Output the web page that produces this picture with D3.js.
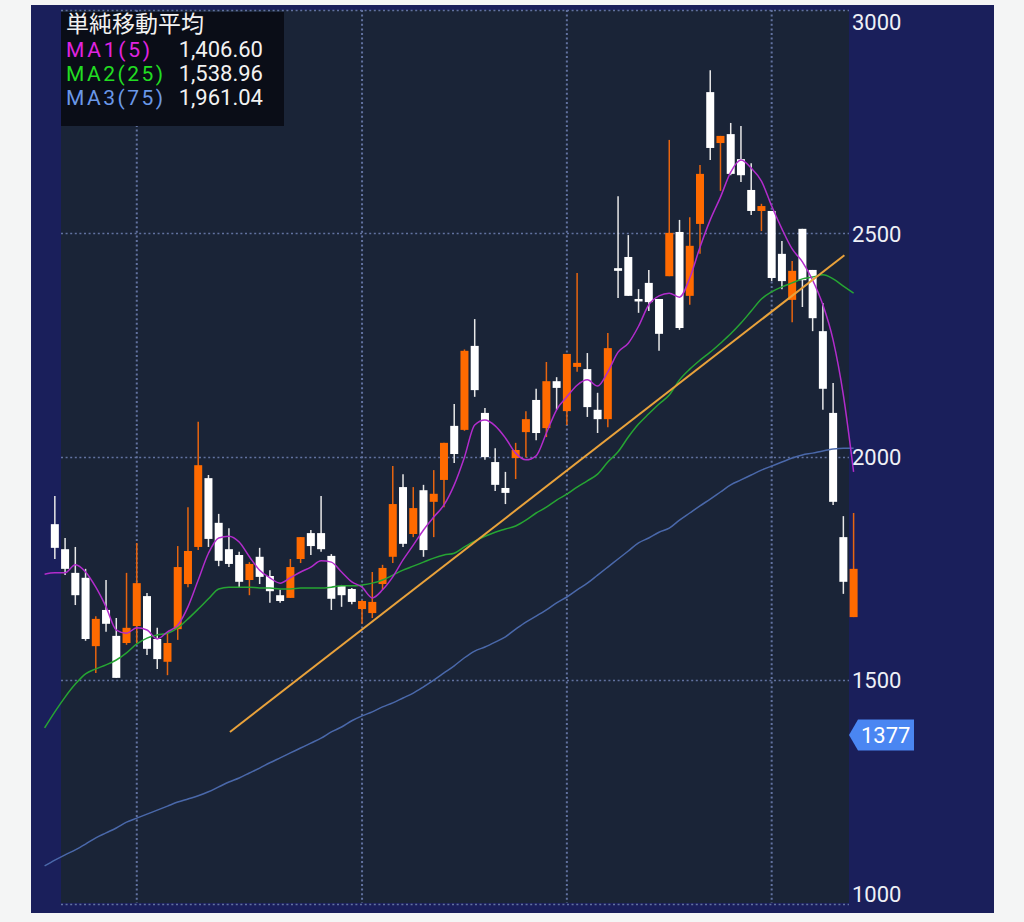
<!DOCTYPE html>
<html><head><meta charset="utf-8">
<script src="https://cdn.jsdelivr.net/npm/d3@7/dist/d3.min.js"></script>
<style>html,body{margin:0;padding:0;background:#f4f5f5;}svg{display:block}</style>
</head><body><svg id="c" width="1024" height="922"></svg>
<script>
// ---- data (candles 1..79) ----
const openP = [1849,1793,1740,1729,1576,1657,1599,1583,1621,1688,1592,1541,1614,1715,1798,1952,1852,1793,1780,1724,1776,1733,1690,1684,1771,1829,1829,1778,1711,1704,1659,1650,1715,1776,1932,1827,1925,1899,1948,2069,2060,2248,2098,1988,1930,1997,2055,2127,2064,2169,2102,2201,2196,2105,2084,2422,2447,2353,2389,2353,2404,2503,2360,2521,2816,2702,2722,2666,2597,2550,2550,2454,2351,2510,2418,2281,2098,1820,1641];
const highP = [1912,1818,1798,1749,1643,1724,1639,1740,1807,1695,1617,1605,1800,1887,2078,1959,1872,1840,1787,1764,1796,1746,1702,1771,1820,1836,1912,1782,1713,1706,1679,1742,1758,1979,1961,1932,1937,1970,2031,2118,2240,2308,2109,2019,1966,2031,2102,2152,2212,2178,2230,2411,2232,2143,2277,2583,2496,2375,2418,2353,2709,2530,2536,2653,2865,2718,2747,2740,2657,2566,2550,2483,2438,2510,2418,2344,2165,1867,1874];
const lowP = [1771,1735,1668,1588,1516,1608,1505,1579,1583,1556,1525,1511,1590,1708,1791,1798,1755,1753,1706,1690,1715,1673,1673,1684,1762,1780,1787,1657,1664,1670,1626,1639,1702,1762,1798,1820,1776,1820,1887,1986,2058,2134,1993,1923,1894,1950,1999,2037,2044,2105,2071,2190,2089,2053,2066,2355,2360,2322,2326,2237,2404,2284,2340,2454,2664,2595,2630,2615,2541,2505,2393,2375,2301,2335,2281,2105,1892,1693,1641];
const closeP = [1796,1749,1690,1592,1637,1626,1505,1617,1717,1570,1547,1583,1753,1789,1981,1816,1767,1760,1720,1760,1731,1699,1677,1753,1820,1800,1793,1682,1690,1675,1677,1675,1751,1894,1805,1885,1791,1917,2031,2006,2237,2149,1999,1937,1919,2015,2084,2053,2169,2154,2230,2210,2111,2084,2243,2416,2360,2348,2346,2275,2501,2288,2472,2633,2691,2718,2633,2630,2550,2561,2400,2393,2416,2395,2310,2152,1899,1720,1749];
// moving averages, index 0..79
const ma1 = [1737,1740,1740,1758,1742,1708,1664,1612,1605,1617,1612,1592,1608,1623,1664,1724,1784,1818,1822,1809,1776,1746,1729,1717,1729,1742,1753,1767,1764,1742,1720,1708,1684,1702,1731,1769,1802,1836,1865,1892,1937,1999,2071,2082,2069,2042,2008,1993,2002,2053,2105,2134,2160,2172,2158,2190,2234,2254,2292,2340,2360,2366,2357,2400,2469,2530,2581,2637,2664,2646,2617,2561,2510,2465,2436,2395,2340,2261,2138,1966];
const ma2 = [1393,1429,1462,1491,1514,1525,1534,1545,1561,1581,1594,1601,1605,1617,1637,1659,1682,1704,1708,1708,1708,1706,1706,1704,1704,1706,1706,1706,1708,1711,1711,1713,1717,1724,1735,1746,1755,1764,1773,1780,1784,1798,1811,1822,1831,1838,1845,1858,1874,1887,1903,1916,1932,1946,1961,1988,2011,2044,2073,2096,2118,2138,2172,2196,2216,2234,2254,2275,2299,2326,2353,2369,2380,2389,2398,2402,2407,2398,2382,2366];
const ma3 = [1084,1097,1109,1120,1133,1147,1158,1169,1182,1191,1200,1209,1218,1227,1234,1241,1250,1261,1272,1281,1292,1303,1315,1326,1337,1348,1359,1370,1384,1395,1409,1420,1429,1440,1449,1460,1471,1485,1500,1516,1532,1550,1565,1574,1585,1597,1614,1630,1643,1657,1673,1686,1702,1717,1735,1753,1771,1789,1807,1818,1831,1840,1858,1874,1890,1905,1921,1937,1948,1959,1970,1979,1988,1997,2004,2008,2013,2017,2019,2019];
const trendIdx = [18.1, 78.1];
const trendVal = [1384, 2451];
const vGridIdx = [9, 31, 51, 71];
const yTicks = [1000, 1500, 2000, 2500, 3000];
const legendTitle = "単純移動平均";
const legendNames = ["MA1(5)", "MA2(25)", "MA3(75)"];
const legendValues = ["1,406.60", "1,538.96", "1,961.04"];
const lastPrice = 1377;

// ---- drawing ----
const svg = d3.select('#c');
const P = {left:61, right:849, top:10, bottom:903};
svg.append('rect').attr('x',31).attr('y',5).attr('width',963).attr('height',908).attr('fill','#1a1f5b');
svg.append('rect').attr('x',P.left).attr('y',P.top).attr('width',P.right-P.left).attr('height',P.bottom-P.top).attr('fill','#1a2437');

const x = d3.scaleLinear().domain([0,79]).range([44.6,853.6]);
const y = d3.scaleLinear().domain([1000,3000]).range([903.5,9.9]);

const grid = svg.append('g');
grid.selectAll('line.h').data(yTicks).join('line').attr('class','h')
  .attr('x1',P.left).attr('x2',P.right).attr('y1',d=>Math.round(y(d))+0.5).attr('y2',d=>Math.round(y(d))+0.5)
  .attr('stroke','#6272a0').attr('stroke-width',1.6).attr('stroke-dasharray','2,2.6');
grid.selectAll('line.v').data(vGridIdx).join('line').attr('class','v')
  .attr('x1',d=>x(d)).attr('x2',d=>x(d)).attr('y1',P.top).attr('y2',P.bottom)
  .attr('stroke','#6272a0').attr('stroke-width',2).attr('stroke-dasharray','2,2.6');

// legend box
svg.append('rect').attr('x',61).attr('y',12).attr('width',223).attr('height',114).attr('fill','#0a0d17');

// candles
const candles = d3.range(79).map(k => ({i:k+1, o:openP[k], h:highP[k], l:lowP[k], c:closeP[k]}));
const cg = svg.append('g');
const upCol = '#ff6a00', dnCol = '#ffffff';
cg.selectAll('line').data(candles).join('line')
  .attr('x1',d=>x(d.i)).attr('x2',d=>x(d.i)).attr('y1',d=>y(d.h)).attr('y2',d=>y(d.l))
  .attr('stroke',d=>d.c>=d.o?'#e8650f':'#e8e8e8').attr('stroke-width',1.5);
cg.selectAll('rect').data(candles).join('rect')
  .attr('x',d=>x(d.i)-4).attr('width',8)
  .attr('y',d=>y(Math.max(d.o,d.c)))
  .attr('height',d=>Math.max(2.5, Math.abs(y(d.o)-y(d.c))))
  .attr('fill',d=>d.c>=d.o?upCol:dnCol);

// MA lines
const line = d3.line().x((d,i)=>x(i)).y(d=>y(d)).curve(d3.curveMonotoneX);
svg.append('path').attr('d',line(ma3)).attr('fill','none').attr('stroke','#4a68aa').attr('stroke-width',1.5);
svg.append('path').attr('d',line(ma2)).attr('fill','none').attr('stroke','#26a533').attr('stroke-width',1.5);
svg.append('path').attr('d',line(ma1)).attr('fill','none').attr('stroke','#b22ccc').attr('stroke-width',1.5);
// trend line
svg.append('line').attr('x1',x(trendIdx[0])).attr('y1',y(trendVal[0])).attr('x2',x(trendIdx[1])).attr('y2',y(trendVal[1]))
  .attr('stroke','#e9a23b').attr('stroke-width',2);

// y axis labels
const ax = svg.append('g').attr('transform',`translate(${P.right},0)`)
  .call(d3.axisRight(y).tickValues(yTicks).tickSize(0).tickPadding(3).tickFormat(d3.format('d')));
ax.select('.domain').remove();
ax.selectAll('text').attr('font-family','Roboto, sans-serif').attr('font-size',22).attr('fill','#eef0f6')
  .attr('dy', d => d===3000 ? '0.9em' : d===1000 ? '-0.1em' : '0.35em');

// last price marker
const yc = y(lastPrice);
svg.append('path').attr('d',`M849,${yc} L858,${yc-15.5} L914,${yc-15.5} L914,${yc+15.5} L858,${yc+15.5} Z`).attr('fill','#4a86f2');
svg.append('text').attr('x',861).attr('y',yc).attr('dy','0.36em').attr('font-family','Roboto, sans-serif').attr('font-size',22)
  .attr('fill','#ffffff').text(lastPrice);

// legend text
svg.append('text').attr('x',66).attr('y',32).attr('font-family','"Noto Sans CJK JP", sans-serif').attr('font-size',23)
  .attr('fill','#f2f2f2').text(legendTitle);
const legCols = ['#e024e0','#22dd22','#6a98e8'];
const legW = [84, 97, 97];
legendNames.forEach((n,k)=>{
  svg.append('text').attr('x',66).attr('y',57+k*24).attr('font-family','Roboto, sans-serif').attr('font-size',21)
    .attr('fill',legCols[k]).attr('textLength',legW[k]).attr('lengthAdjust','spacing').text(n);
  svg.append('text').attr('x',263).attr('y',57+k*24).attr('text-anchor','end').attr('font-family','Roboto, sans-serif').attr('font-size',22)
    .attr('fill','#f2f2f2').text(legendValues[k]);
});
</script></body></html>
